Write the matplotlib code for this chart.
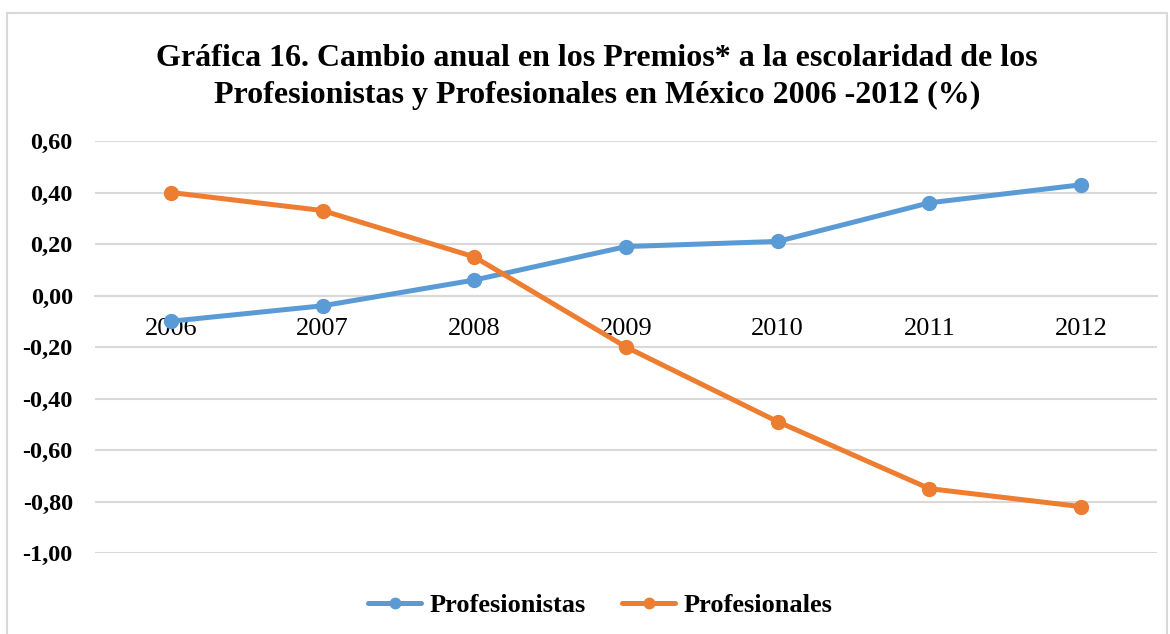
import matplotlib.pyplot as plt
from matplotlib.patches import Rectangle
from matplotlib.ticker import FuncFormatter

years = ['2006', '2007', '2008', '2009', '2010', '2011', '2012']
profesionistas = [-0.10, -0.04, 0.06, 0.19, 0.21, 0.36, 0.43]
profesionales = [0.40, 0.33, 0.15, -0.20, -0.49, -0.75, -0.82]
yticks = [0.60, 0.40, 0.20, 0.00, -0.20, -0.40, -0.60, -0.80, -1.00]

BLUE = '#5B9BD5'
ORANGE = '#ED7D31'
GRID = '#D9D9D9'

plt.rcParams['font.family'] = ['Liberation Serif', 'DejaVu Serif']

fig = plt.figure(figsize=(11.7, 6.34), dpi=100)
ax = fig.add_axes([95 / 1170, 1 - 553 / 634, 1062 / 1170, 412 / 634])

# outer chart frame
fig.patches.append(Rectangle((7 / 1170, -0.05), 1160 / 1170, 1 - 13 / 634 + 0.05,
                             transform=fig.transFigure, fill=False,
                             edgecolor=GRID, linewidth=1.5))

x = list(range(len(years)))
ax.plot(x, profesionistas, color=BLUE, lw=3.6, marker='o', ms=10,
        label='Profesionistas', solid_capstyle='round', zorder=3)
ax.plot(x, profesionales, color=ORANGE, lw=3.6, marker='o', ms=10,
        label='Profesionales', solid_capstyle='round', zorder=3)

ax.grid(axis='y', color=GRID, lw=1.5, zorder=0)
for s in ['top', 'right', 'left']:
    ax.spines[s].set_visible(False)
ax.spines['bottom'].set_position(('data', 0))
ax.spines['bottom'].set_color(GRID)
ax.spines['bottom'].set_linewidth(1.5)

ax.set_xlim(-0.5, 6.5)
ax.set_ylim(-1.0, 0.6)
ax.set_yticks(yticks)
ax.yaxis.set_major_formatter(FuncFormatter(lambda v, p: f'{v:.2f}'.replace('.', ',').replace('-0,00', '0,00')))
ax.set_xticks(x)
ax.set_xticklabels(years, fontsize=19)
ax.tick_params(axis='x', length=0, pad=16, labelsize=19)
ax.tick_params(axis='y', length=0, pad=16, labelsize=17.5)
for lab in ax.get_yticklabels():
    lab.set_fontweight('bold')

fig.text(0.51, 1 - 77 / 634, 'Gráfica 16. Cambio anual en los Premios* a la escolaridad de los\n'
         'Profesionistas y Profesionales en México 2006 -2012 (%)',
         ha='center', va='center', fontsize=23, fontweight='bold', linespacing=1.38)

fig.legend(loc='center', bbox_to_anchor=(0.513, 1 - 605 / 634), ncol=2, frameon=False,
           prop={'weight': 'bold', 'size': 19}, handlelength=2.0, columnspacing=1.4,
           handletextpad=0.3, markerscale=0.75)

fig.savefig('out.png', dpi=100)
